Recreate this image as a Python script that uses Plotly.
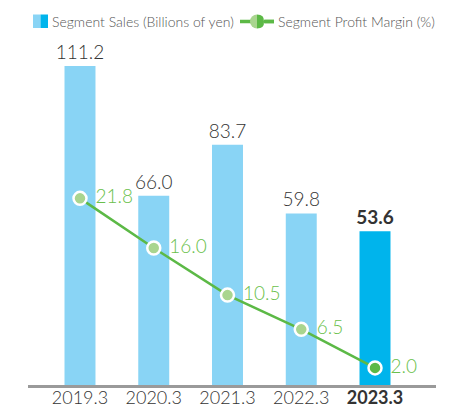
import plotly.graph_objects as go

# Fiscal years and segment figures
years = ["2019.3", "2020.3", "2021.3", "2022.3", "2023.3"]
sales = [111.2, 66.0, 83.7, 59.8, 53.6]          # billions of yen
margin = [21.8, 16.0, 10.5, 6.5, 2.0]           # percent
tick_labels = ["2019.3", "2020.3", "2021.3", "2022.3", "<b>2023.3</b>"]

LIGHT_BLUE = "#89d4f5"
DARK_BLUE = "#00b4ec"
GREEN = "#5cb946"
LIGHT_GREEN = "#a9d58f"
TEXT_GREEN = "#6abf4b"
TEXT_DARK = "#333333"
FONT = "Lato"

W, H = 464, 409
ML, MR, MT, MB = 28, 28, 40, 24
PW, PH = W - ML - MR, H - MT - MB

bar_colors = [LIGHT_BLUE] * (len(years) - 1) + [DARK_BLUE]
bar_text = [f"{v:.1f}" for v in sales]
bar_text[-1] = f"<b>{sales[-1]:.1f}</b>"

marker_fill = [LIGHT_GREEN] * (len(years) - 1) + [GREEN]
NBSP = "\u00a0"

fig = go.Figure()
fig.add_trace(go.Bar(
    x=years, y=sales, width=0.42,
    marker=dict(color=bar_colors, line=dict(width=0)),
    text=bar_text, textposition="outside", cliponaxis=False,
    constraintext="none",
    textfont=dict(family=FONT, size=19, color=TEXT_DARK, weight=300),
    name="Segment Sales (Billions of yen)", showlegend=False,
))
fig.add_trace(go.Scatter(
    x=years, y=margin, yaxis="y2", mode="lines+markers",
    line=dict(color=GREEN, width=2.5),
    marker=dict(size=13, color=marker_fill, line=dict(color="white", width=2.5)),
    cliponaxis=False,
    name="Segment Profit Margin (%)", showlegend=False,
))
# Margin labels, set to the right of each point
fig.add_trace(go.Scatter(
    x=years, y=margin, yaxis="y2", mode="text",
    text=[f"{NBSP * 3}{v:.1f}" for v in margin], textposition="middle right",
    textfont=dict(family=FONT, size=19, color=TEXT_GREEN, weight=300),
    cliponaxis=False, showlegend=False, hoverinfo="skip",
))

def px_x(p):
    return (p - ML) / PW

def px_y(p):
    return (H - MB - p) / PH

# Legend drawn as small shapes plus text
shapes = [
    dict(type="rect", xref="paper", yref="paper", x0=px_x(33), x1=px_x(40.5),
         y0=px_y(28), y1=px_y(14.5), fillcolor=LIGHT_BLUE, line=dict(width=0)),
    dict(type="rect", xref="paper", yref="paper", x0=px_x(40.5), x1=px_x(48),
         y0=px_y(28), y1=px_y(14.5), fillcolor=DARK_BLUE, line=dict(width=0)),
    dict(type="line", xref="paper", yref="paper", x0=px_x(240), x1=px_x(274),
         y0=px_y(21.5), y1=px_y(21.5), line=dict(color=GREEN, width=3.5)),
    dict(type="circle", xref="paper", yref="paper", x0=px_x(250), x1=px_x(264),
         y0=px_y(28.5), y1=px_y(14.5), fillcolor=LIGHT_GREEN, line=dict(width=0)),
    dict(type="rect", xref="paper", yref="paper", x0=px_x(257), x1=px_x(264.5),
         y0=px_y(29), y1=px_y(14), fillcolor="white", line=dict(width=0)),
    dict(type="path", xref="paper", yref="paper",
         path=(f"M {px_x(257)},{px_y(14.5)} "
               f"Q {px_x(264.5)},{px_y(14.5)} {px_x(264)},{px_y(21.5)} "
               f"Q {px_x(264.5)},{px_y(28.5)} {px_x(257)},{px_y(28.5)} Z"),
         fillcolor=GREEN, line=dict(width=0)),
    dict(type="line", xref="paper", yref="paper", x0=px_x(264), x1=px_x(274),
         y0=px_y(21.5), y1=px_y(21.5), line=dict(color=GREEN, width=3.5)),
]
annotations = [
    dict(text="Segment Sales (Billions of yen)", xref="paper", yref="paper",
         x=px_x(50), y=px_y(21.5), xanchor="left", yanchor="middle", showarrow=False,
         font=dict(family=FONT, size=14, color="#555555", weight=300)),
    dict(text="Segment Profit Margin (%)", xref="paper", yref="paper",
         x=px_x(276), y=px_y(21.5), xanchor="left", yanchor="middle", showarrow=False,
         font=dict(family=FONT, size=14, color="#555555", weight=300)),
]

fig.update_layout(
    width=W, height=H,
    margin=dict(l=ML, r=MR, t=MT, b=MB, pad=0),
    plot_bgcolor="white", paper_bgcolor="white",
    shapes=shapes, annotations=annotations,
    xaxis=dict(
        type="category", range=[-0.705, 4.827], automargin=False,
        tickvals=years, ticktext=tick_labels, ticklabelstandoff=-5,
        tickfont=dict(family=FONT, size=18, color=TEXT_DARK, weight=300),
        showline=True, linecolor="#9a9a9a", linewidth=2.5,
        ticks="", showgrid=False, zeroline=False,
    ),
    yaxis=dict(range=[0, 120.25], visible=False, showgrid=False,
               zeroline=False, automargin=False),
    yaxis2=dict(range=[0, 40.3], overlaying="y", visible=False,
                showgrid=False, zeroline=False, automargin=False),
)

fig.write_html("out.html")
